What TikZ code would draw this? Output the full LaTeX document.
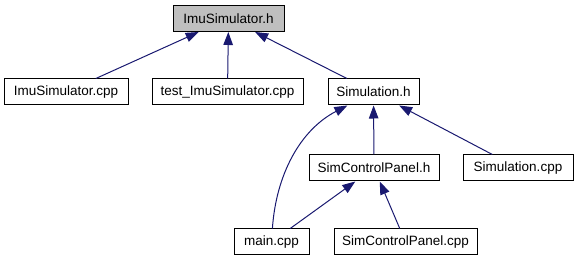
\documentclass[tikz,border=0pt]{standalone}
\usepackage{fontspec}
\setmainfont{Liberation Sans}
\usepackage{tikz}
\usetikzlibrary{
    arrows.meta,
    positioning
}
\usepackage{xcolor}
\definecolor{edgeblue}{RGB}{25,25,112}
\definecolor{headgray}{RGB}{191,191,191}

\begin{document}
\begin{tikzpicture}[
    x=1pt, y=-1pt,
    box/.style={
        rectangle, draw=black, line width=1pt, fill=white,
        minimum height=26pt, inner sep=0pt,
        align=center, font=\fontsize{13.5}{16}\selectfont
    },
    arrow/.style={-{Triangle[length=13pt, width=9.5pt]}, line width=1pt, edgeblue}
]
\useasboundingbox (0,0) rectangle (576,261);

% Header under inspection
\node[box, fill=headgray, minimum width=111pt] (imuh) at (228.5, 18.5) {ImuSimulator.h};

% Files including it directly
\node[box, minimum width=124pt] (imucpp) at (66, 92) {ImuSimulator.cpp};
\node[box, minimum width=151pt] (testcpp) at (227.5, 92) {test\_ImuSimulator.cpp};
\node[box, minimum width=91pt] (simh) at (373.5, 92) {Simulation.h};

% Second level
\node[box, minimum width=130pt] (panelh) at (374, 168) {SimControlPanel.h};
\node[box, minimum width=110pt] (simcpp) at (518, 168) {Simulation.cpp};

% Bottom level
\node[box, minimum width=75pt] (maincpp) at (271.5, 242) {main.cpp};
\node[box, minimum width=143pt] (panelcpp) at (405.5, 242) {SimControlPanel.cpp};

% Include edges
\draw[arrow] (imucpp) -- (imuh);
\draw[arrow] (testcpp) -- (imuh);
\draw[arrow] (simh) -- (imuh);

\draw[arrow] (panelh) -- (simh);
\draw[arrow] (simcpp) -- (simh);
\draw[arrow] (maincpp) .. controls (276, 175) and (300, 130) .. (simh);

\draw[arrow] (maincpp) -- (panelh);
\draw[arrow] (panelcpp) -- (panelh);

\end{tikzpicture}
\end{document}
